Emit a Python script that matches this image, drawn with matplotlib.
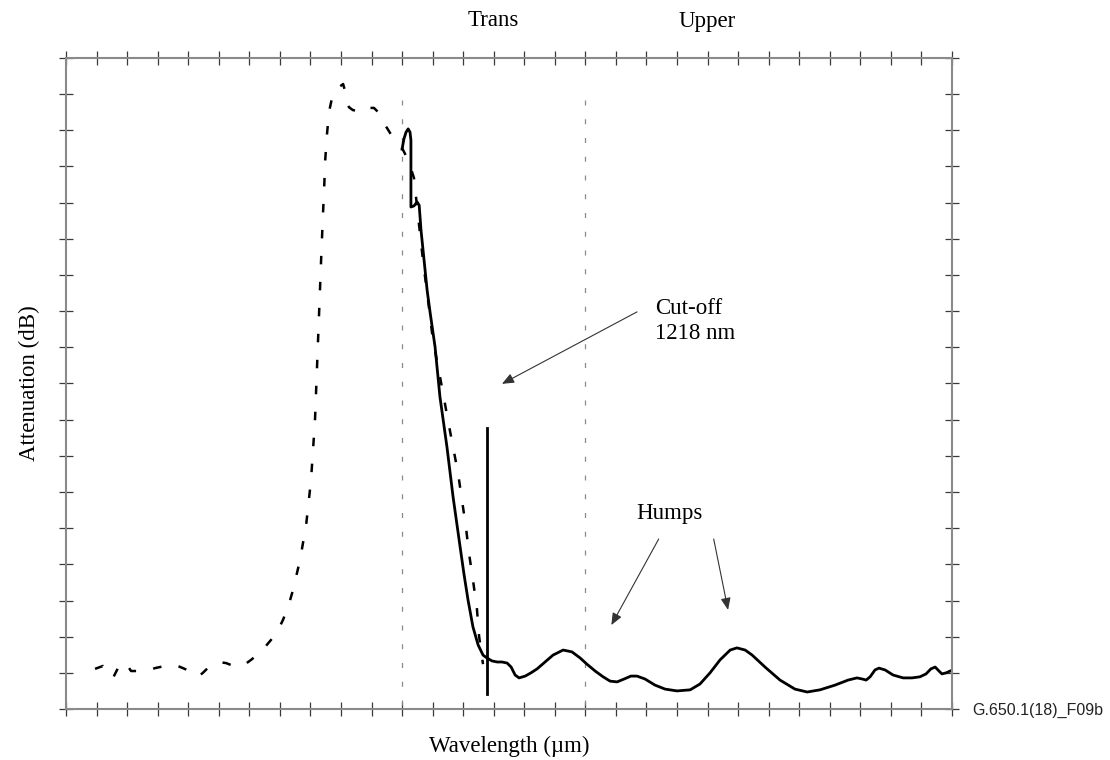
import matplotlib.pyplot as plt

plt.rcParams['font.family'] = ['Liberation Serif', 'DejaVu Serif']

# measured spectrum of the reference fibre (dashed) and of the fibre under test (solid)
ref_x = [0.95, 1.21, 1.44, 1.54, 1.70, 1.93, 2.13, 2.42, 2.65, 2.91, 3.24, 3.57, 3.83, 4.12,
         4.32, 4.48, 4.71, 4.98, 5.24, 5.57, 5.83, 6.06, 6.29, 6.51, 6.71, 6.94, 7.10, 7.27,
         7.43, 7.66, 7.86, 8.02, 8.15, 8.25, 8.35, 8.41, 8.45, 8.48, 8.54, 8.61, 8.74, 8.90,
         9.07, 9.17, 9.26, 9.39, 9.56, 9.66, 9.76, 9.92, 10.08, 10.21, 10.34, 10.51, 10.67,
         10.84, 11.00, 11.20, 11.39, 11.52, 11.69, 11.85, 12.01, 12.18, 12.34, 12.50, 12.67,
         12.83, 12.96, 13.09, 13.19, 13.32, 13.45, 13.52, 13.58, 13.65]
ref_y = [1.11, 1.19, 0.91, 0.86, 1.13, 1.30, 1.05, 1.05, 1.05, 1.13, 1.19, 1.22, 1.13, 1.02,
         0.89, 1.00, 1.19, 1.30, 1.27, 1.16, 1.22, 1.36, 1.52, 1.71, 1.91, 2.18, 2.46, 2.82,
         3.29, 4.12, 5.09, 6.33, 7.99, 10.20, 12.41, 13.66, 14.40, 15.12, 15.87, 16.51, 17.03,
         17.17, 17.28, 16.98, 16.64, 16.56, 16.53, 16.48, 16.53, 16.62, 16.62, 16.51, 16.28,
         16.06, 15.84, 15.68, 15.51, 15.18, 14.68, 13.66, 12.36, 11.31, 10.20, 9.46, 8.74,
         7.99, 7.24, 6.53, 5.78, 5.03, 4.31, 3.57, 2.77, 2.02, 1.63, 1.24]

test_x = [11.00, 11.06, 11.13, 11.20, 11.26, 11.29, 11.29, 11.29, 11.39, 11.49, 11.56, 11.62,
          11.72, 11.82, 11.92, 12.08, 12.24, 12.47, 12.67, 12.90, 13.03, 13.16, 13.32, 13.49,
          13.65, 13.78, 13.94, 14.11, 14.27, 14.44, 14.57, 14.70, 14.83, 15.03, 15.22, 15.42,
          15.68, 15.94, 16.27, 16.56, 16.83, 17.05, 17.32, 17.58, 17.81, 18.04, 18.27, 18.49,
          18.69, 18.95, 19.28, 19.61, 20.00, 20.43, 20.75, 21.08, 21.41, 21.74, 21.96, 22.23,
          22.46, 22.88, 23.37, 23.86, 24.26, 24.68, 25.17, 25.60, 25.89, 26.06, 26.19, 26.32,
          26.48, 26.61, 26.81, 27.07, 27.40, 27.69, 27.95, 28.15, 28.31, 28.45, 28.54, 28.67,
          28.81, 28.94]
test_y = [15.48, 15.76, 15.95, 16.04, 15.95, 15.73, 14.63, 13.88, 13.91, 14.02, 13.93, 13.24,
          12.41, 11.58, 10.95, 10.01, 8.63, 7.24, 5.86, 4.48, 3.71, 3.01, 2.27, 1.77,
          1.49, 1.41, 1.33, 1.30, 1.30, 1.27, 1.16, 0.94, 0.86, 0.91, 1.00, 1.11,
          1.30, 1.49, 1.63, 1.58, 1.41, 1.24, 1.05, 0.89, 0.77, 0.75, 0.83, 0.91,
          0.91, 0.83, 0.66, 0.55, 0.50, 0.53, 0.69, 1.00, 1.36, 1.63, 1.69, 1.63,
          1.49, 1.16, 0.80, 0.55, 0.47, 0.53, 0.66, 0.80, 0.86, 0.83, 0.80, 0.89,
          1.08, 1.13, 1.08, 0.94, 0.86, 0.86, 0.89, 0.97, 1.11, 1.16, 1.08, 0.97,
          1.00, 1.05]

# cut-off marker and region boundaries
cutoff_x = 13.78
cutoff_y = [0.41, 7.77]
bounds_x = [11.0, 17.0]

fig = plt.figure(figsize=(11.1, 7.6), dpi=100)
ax = fig.add_axes([66 / 1110, 1 - 709 / 760, 886 / 1110, 651 / 760])

for bx in bounds_x:
    ax.plot([bx, bx], [0.1, 17.2], color='#8a8a8a', lw=0.9, linestyle=(0, (4, 11)))

ax.plot(ref_x, ref_y, color='black', lw=1.8, linestyle=(0, (3.4, 7.0)))
ax.plot(test_x, test_y, color='black', lw=2.0, solid_joinstyle='round')
ax.plot([cutoff_x, cutoff_x], cutoff_y, color='black', lw=2.0)

ax.set_xlim(0, 29)
ax.set_ylim(0, 18)
ax.set_xticks(range(0, 30))
ax.set_yticks(range(0, 19))
ax.tick_params(direction='inout', length=10, width=0.9, color='#3a3a3a',
               top=True, right=True, labelbottom=False, labelleft=False)
for s in ax.spines.values():
    s.set_color('#8a8a8a')
    s.set_linewidth(1.5)

ax.set_xlabel('Wavelength (µm)', fontsize=16.5, labelpad=14)
ax.set_ylabel('Attenuation (dB)', fontsize=16.5, labelpad=14)

ax.text(14.0, 19.05, 'Trans', fontsize=16.5, ha='center', va='center')
ax.text(21.0, 19.0, 'Upper', fontsize=16.5, ha='center', va='center')

arrow = dict(arrowstyle='-|>,head_length=0.6,head_width=0.25', color='#333333', lw=0.8,
             mutation_scale=12, shrinkA=0, shrinkB=0)
ax.annotate('', xy=(14.27, 8.99), xytext=(18.69, 10.98), arrowprops=arrow)
ax.text(19.28, 10.73, 'Cut-off\n1218 nm', fontsize=16.5, ha='left', va='center')

ax.text(19.74, 5.4, 'Humps', fontsize=16.5, ha='center', va='center')
ax.annotate('', xy=(17.85, 2.32), xytext=(19.4, 4.7), arrowprops=arrow)
ax.annotate('', xy=(21.67, 2.74), xytext=(21.2, 4.7), arrowprops=arrow)

fig.text(972 / 1110, 1 - 710 / 760, 'G.650.1(18)_F09b', fontsize=11.5, ha='left', va='center',
         family='Liberation Sans', color='#222222')

plt.savefig('out.png', dpi=100)
